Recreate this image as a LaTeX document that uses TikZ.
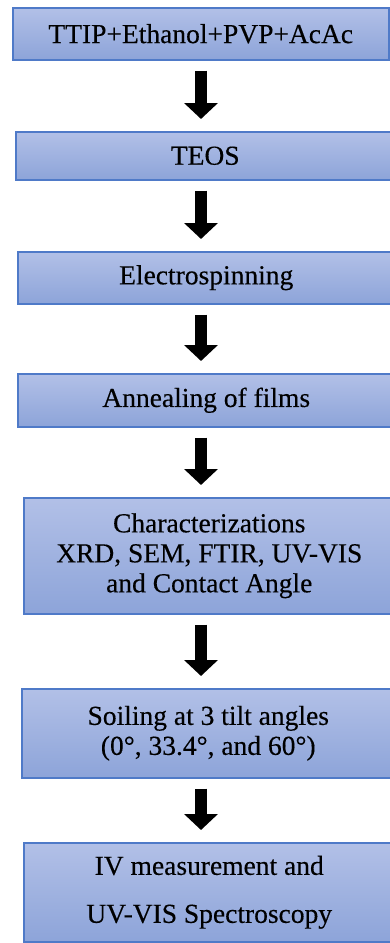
\documentclass[tikz,border=0pt]{standalone}
\usepackage{fontspec}
\setmainfont{Liberation Serif}[FakeBold=0.3]
\usetikzlibrary{arrows.meta, positioning, calc}
\definecolor{boxtop}{RGB}{178,192,231}
\definecolor{boxbottom}{RGB}{141,164,217}
\definecolor{boxline}{RGB}{79,122,200}

\begin{document}
\begin{tikzpicture}[x=1pt, y=-1pt, >={Triangle[width=33pt, length=16pt]}]
    \tikzset{stage/.style={draw=boxline, line width=1.5pt, top color=boxtop, bottom color=boxbottom,
            anchor=north west, inner sep=0pt, align=center, font=\fontsize{27.5}{30}\selectfont},
        flow/.style={->, line width=12pt, black}
    }
    \useasboundingbox (0,0) rectangle (390,943);
    \clip (0,0) rectangle (390,943);

    \coordinate (axis) at (201,0);

    \node (mix) [stage, minimum width=376pt, minimum height=52pt] at (12,7) {TTIP+Ethanol+PVP+AcAc};
    \node (teos) [stage, minimum width=379pt, minimum height=48pt] at (15,131) {TEOS};
    \node (spin) [stage, minimum width=377pt, minimum height=52pt] at (17,251) {Electrospinning};
    \node (anneal) [stage, minimum width=377pt, minimum height=53pt] at (17,373) {Annealing of films};
    \node (charac) [stage, minimum width=371pt, minimum height=116pt] at (23,497)
        {Characterizations\\XRD, SEM, FTIR, UV-VIS\\and Contact Angle};
    \node (soil) [stage, minimum width=373pt, minimum height=89pt] at (21,688)
        {Soiling at 3 tilt angles\\(0°, 33.4°, and 60°)};
    \node (iv) [stage, minimum width=371pt, minimum height=99pt] at (23,842)
        {IV measurement and\\[18pt]UV-VIS Spectroscopy};

    \foreach \a / \b in {mix/teos, teos/spin, spin/anneal, anneal/charac, charac/soil, soil/iv} {
        \draw [flow] ($(\a.south -| axis)+(0,10)$) -- ($(\b.north -| axis)+(0,-12)$);
    }
\end{tikzpicture}
\end{document}
